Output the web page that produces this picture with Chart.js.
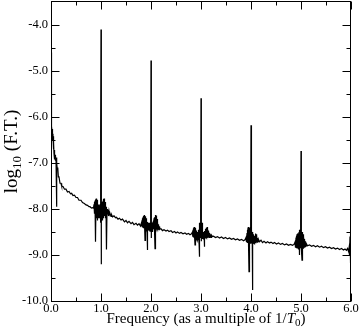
<!DOCTYPE html>
<html>
<head>
<meta charset="utf-8">
<script src="https://cdn.jsdelivr.net/npm/chart.js@4.4.1/dist/chart.umd.min.js"></script>
<style>
  html, body { margin: 0; padding: 0; background: #fff; }
  canvas { display: block; }
</style>
</head>
<body>
<canvas id="c" width="360" height="336"></canvas>
<script>
// ---- data ----
const xTickLabels = [0, 1, 2, 3, 4, 5, 6];
const yTickLabels = [-10, -9, -8, -7, -6, -5, -4];
const xTitleParts = ['Frequency (as a multiple of 1/', 'T', '0', ')'];
const yTitleParts = ['log', '10', ' (F.T.)'];

const freq = [
  // start .. 0.85
  0, 0.005, 0.01, 0.015, 0.02, 0.027, 0.033, 0.04, 0.047, 0.055, 0.06, 0.067, 0.075, 0.08, 0.09, 0.1, 0.108, 0.113, 0.115, 0.118,
  0.125, 0.135, 0.147, 0.16, 0.18, 0.2, 0.213, 0.24, 0.27, 0.3, 0.33, 0.36, 0.39, 0.413, 0.44, 0.47, 0.5, 0.53, 0.56, 0.6,
  0.63, 0.667, 0.7, 0.73, 0.76, 0.78, 0.81, 0.83,
  // cluster around 1
  0.85, 0.86, 0.865, 0.87, 0.875, 0.88, 0.885, 0.89, 0.895, 0.9, 0.905, 0.91, 0.915, 0.92, 0.925, 0.93, 0.935, 0.94, 0.945, 0.95,
  0.955, 0.96, 0.965, 0.97, 0.975, 0.98, 0.985, 0.99, 0.995, 0.997, 0.999, 1.0, 1.001, 1.003, 1.005, 1.01, 1.015, 1.02, 1.025, 1.03,
  1.035, 1.04, 1.045, 1.05, 1.055, 1.06, 1.065, 1.07, 1.075, 1.08, 1.085, 1.09, 1.095, 1.1, 1.105, 1.11, 1.113, 1.12, 1.13, 1.14,
  1.15, 1.16, 1.17, 1.18, 1.2, 1.21,
  // 1.2 .. 1.8
  1.23, 1.26, 1.29, 1.31, 1.34, 1.37, 1.4, 1.43, 1.47, 1.5, 1.53, 1.56, 1.6, 1.63, 1.66, 1.7, 1.73, 1.76, 1.79,
  // cluster around 2
  1.81, 1.815, 1.82, 1.825, 1.83, 1.835, 1.84, 1.845, 1.85, 1.855, 1.86, 1.865, 1.87, 1.875, 1.88, 1.885, 1.89, 1.895, 1.9, 1.905,
  1.91, 1.915, 1.92, 1.925, 1.93, 1.935, 1.94, 1.945, 1.95, 1.955, 1.96, 1.965, 1.97, 1.975, 1.98, 1.985, 1.99, 1.995, 1.997, 1.999,
  2.0, 2.001, 2.003, 2.005, 2.01, 2.015, 2.02, 2.025, 2.03, 2.035, 2.04, 2.045, 2.05, 2.055, 2.06, 2.065, 2.07, 2.075, 2.08, 2.085,
  2.09, 2.095, 2.1, 2.105, 2.11, 2.115, 2.12, 2.125, 2.13, 2.135, 2.14, 2.15, 2.16, 2.17, 2.18,
  // 2.2 .. 2.8
  2.2, 2.23, 2.26, 2.3, 2.33, 2.36, 2.4, 2.43, 2.47, 2.5, 2.53, 2.57, 2.6, 2.64, 2.68, 2.71, 2.75, 2.78, 2.81,
  // cluster around 3
  2.83, 2.835, 2.84, 2.845, 2.85, 2.855, 2.86, 2.865, 2.87, 2.875, 2.88, 2.885, 2.89, 2.895, 2.9, 2.905, 2.91, 2.915, 2.92, 2.925,
  2.93, 2.935, 2.94, 2.945, 2.95, 2.955, 2.96, 2.965, 2.97, 2.975, 2.98, 2.985, 2.99, 2.995, 2.997, 2.999, 3.0, 3.001, 3.003, 3.005,
  3.01, 3.015, 3.02, 3.025, 3.03, 3.035, 3.04, 3.045, 3.05, 3.055, 3.06, 3.065, 3.07, 3.075, 3.08, 3.085, 3.09, 3.095, 3.1, 3.105,
  3.11, 3.115, 3.12, 3.125, 3.13, 3.135, 3.14, 3.15, 3.16, 3.17, 3.18, 3.19, 3.2, 3.21, 3.23,
  // 3.25 .. 3.9
  3.25, 3.29, 3.33, 3.37, 3.41, 3.45, 3.49, 3.53, 3.57, 3.61, 3.65, 3.69, 3.73, 3.77, 3.81, 3.85, 3.88,
  // cluster around 4
  3.9, 3.905, 3.91, 3.915, 3.92, 3.925, 3.93, 3.935, 3.94, 3.945, 3.95, 3.955, 3.96, 3.965, 3.97, 3.975, 3.98, 3.985, 3.99, 3.995,
  3.997, 3.999, 4.0, 4.001, 4.003, 4.005, 4.01, 4.015, 4.02, 4.025, 4.03, 4.035, 4.04, 4.045, 4.05, 4.055, 4.06, 4.065, 4.07, 4.075,
  4.08, 4.085, 4.09, 4.095, 4.1, 4.105, 4.11, 4.115, 4.12, 4.13, 4.14, 4.15,
  // 4.17 .. 4.86
  4.17, 4.2, 4.23, 4.26, 4.3, 4.33, 4.37, 4.4, 4.44, 4.47, 4.51, 4.55, 4.59, 4.63, 4.67, 4.71, 4.75, 4.79, 4.83, 4.86,
  // cluster around 5
  4.88, 4.885, 4.89, 4.895, 4.9, 4.905, 4.91, 4.915, 4.92, 4.925, 4.93, 4.935, 4.94, 4.945, 4.95, 4.955, 4.96, 4.965, 4.97, 4.975,
  4.98, 4.985, 4.99, 4.995, 4.997, 4.999, 5.0, 5.001, 5.003, 5.005, 5.01, 5.015, 5.02, 5.025, 5.03, 5.035, 5.04, 5.045, 5.05, 5.055,
  5.06, 5.07, 5.08, 5.09, 5.1, 5.11,
  // 5.13 .. 6.0
  5.13, 5.17, 5.21, 5.25, 5.29, 5.33, 5.37, 5.41, 5.45, 5.49, 5.53, 5.57, 5.61, 5.65, 5.69, 5.73, 5.77, 5.81, 5.85, 5.88,
  5.91, 5.93, 5.95, 5.96, 5.965, 5.97, 5.975, 5.98, 5.985, 5.99, 5.993, 5.996, 6.0
];

const logFT = [
  // start .. 0.85
  -4.6, -6.0, -6.12, -6.2, -6.3, -6.26, -6.45, -6.42, -6.7, -6.55, -6.8, -6.72, -6.92, -6.82, -6.95, -6.88, -7.0, -6.93, -7.95, -7.0,
  -7.12, -7.1, -7.3, -7.3, -7.44, -7.44, -7.5, -7.51, -7.57, -7.57, -7.63, -7.62, -7.67, -7.66, -7.71, -7.7, -7.75, -7.75, -7.81, -7.81,
  -7.86, -7.88, -7.91, -7.92, -7.95, -7.95, -7.98, -7.97,
  // cluster around 1
  -7.98, -7.9, -8.05, -7.85, -8.1, -7.82, -8.15, -7.8, -8.71, -7.78, -8.2, -7.77, -8.1, -7.8, -8.25, -7.85, -8.05, -7.9, -8.2, -7.95,
  -8.1, -7.92, -8.2, -7.95, -8.1, -7.9, -8.3, -7.85, -6.27, -8.0, -6.3, -4.1, -9.2, -6.35, -8.1, -7.8, -8.2, -7.85, -8.1, -7.9,
  -8.25, -7.82, -8.1, -7.78, -8.2, -7.77, -8.05, -7.8, -8.15, -7.85, -8.1, -7.9, -8.2, -7.95, -8.15, -8.0, -8.88, -8.0, -8.12, -8.02,
  -8.15, -8.05, -8.12, -8.1, -8.16, -8.12,
  // 1.2 .. 1.8
  -8.17, -8.15, -8.19, -8.18, -8.22, -8.2, -8.24, -8.22, -8.28, -8.25, -8.3, -8.27, -8.32, -8.29, -8.34, -8.31, -8.35, -8.32, -8.37,
  // cluster around 2
  -8.3, -8.38, -8.25, -8.4, -8.2, -8.38, -8.18, -8.42, -8.15, -8.35, -8.14, -8.4, -8.13, -8.3, -8.68, -8.2, -8.38, -8.16, -8.4, -8.2,
  -8.45, -8.25, -8.4, -8.28, -8.89, -8.3, -8.45, -8.32, -8.42, -8.3, -8.46, -8.33, -8.44, -8.3, -8.48, -8.25, -8.45, -7.66, -8.4, -7.7,
  -4.77, -8.63, -7.8, -8.4, -8.3, -8.48, -8.32, -8.45, -8.3, -8.5, -8.28, -8.44, -8.25, -8.42, -8.2, -8.4, -8.18, -8.45, -8.86, -8.16,
  -8.4, -8.13, -8.38, -8.14, -8.42, -8.17, -8.4, -8.22, -8.43, -8.28, -8.44, -8.33, -8.45, -8.38, -8.44,
  // 2.2 .. 2.8
  -8.43, -8.47, -8.45, -8.48, -8.46, -8.49, -8.47, -8.51, -8.49, -8.52, -8.5, -8.53, -8.51, -8.54, -8.52, -8.55, -8.53, -8.56, -8.54,
  // cluster around 3
  -8.5, -8.6, -8.45, -8.62, -8.42, -8.6, -8.4, -8.63, -8.39, -8.58, -8.78, -8.41, -8.6, -8.43, -8.62, -8.47, -8.65, -8.5, -8.62, -8.52,
  -8.66, -8.5, -8.64, -8.48, -8.66, -8.45, -8.68, -8.4, -9.04, -8.3, -8.62, -8.1, -8.6, -8.02, -8.5, -8.05, -5.59, -8.7, -8.05, -8.55,
  -8.15, -8.6, -8.3, -8.65, -8.45, -8.62, -8.5, -8.66, -8.52, -8.64, -8.5, -8.68, -8.82, -8.48, -8.63, -8.45, -8.62, -8.43, -8.6, -8.41,
  -8.62, -8.4, -8.6, -8.39, -8.61, -8.42, -8.6, -8.47, -8.62, -8.52, -8.61, -8.55, -8.62, -8.57, -8.6,
  // 3.25 .. 3.9
  -8.59, -8.62, -8.6, -8.63, -8.61, -8.64, -8.62, -8.65, -8.63, -8.66, -8.64, -8.67, -8.65, -8.68, -8.66, -8.69, -8.67,
  // cluster around 4
  -8.62, -8.7, -8.58, -8.72, -8.52, -8.7, -8.45, -8.74, -8.4, -8.72, -8.39, -8.75, -9.36, -8.4, -8.72, -8.4, -8.74, -8.35, -8.7, -8.24,
  -8.6, -8.26, -6.18, -8.75, -8.3, -8.7, -8.4, -8.75, -8.45, -8.72, -9.76, -8.5, -8.73, -8.55, -8.74, -8.6, -8.72, -8.62, -8.74, -8.58,
  -8.72, -8.54, -8.73, -8.53, -8.72, -8.55, -8.73, -8.58, -8.72, -8.63, -8.71, -8.66,
  // 4.17 .. 4.86
  -8.71, -8.68, -8.73, -8.7, -8.74, -8.71, -8.74, -8.72, -8.75, -8.73, -8.76, -8.74, -8.77, -8.75, -8.78, -8.76, -8.79, -8.77, -8.79, -8.77,
  // cluster around 5
  -8.72, -8.82, -8.68, -8.84, -8.62, -8.85, -8.58, -8.84, -8.55, -8.86, -8.54, -8.84, -8.53, -8.86, -8.55, -8.88, -8.5, -8.85, -9.0, -8.45,
  -8.84, -8.4, -8.82, -8.24, -8.7, -8.26, -6.74, -8.85, -8.3, -8.8, -8.45, -8.86, -9.11, -8.5, -8.84, -8.54, -8.85, -8.55, -8.84, -8.58,
  -8.83, -8.65, -8.82, -8.7, -8.8, -8.76,
  // 5.13 .. 6.0
  -8.8, -8.78, -8.81, -8.79, -8.82, -8.8, -8.83, -8.81, -8.84, -8.82, -8.85, -8.83, -8.86, -8.84, -8.87, -8.85, -8.88, -8.86, -8.89, -8.87,
  -8.9, -8.86, -8.92, -8.85, -8.95, -8.8, -9.0, -8.6, -8.98, -8.52, -9.18, -8.55, -8.9
];

// ---- rendering ----
const SERIF = '"Liberation Serif", "Times New Roman", serif';

function drawParts(ctx, parts, cx, by) {
  let w = 0;
  parts.forEach(p => { ctx.font = p.font; p.w = ctx.measureText(p.t).width; w += p.w; });
  let x = cx - w / 2;
  parts.forEach(p => {
    ctx.font = p.font;
    ctx.fillText(p.t, x, by + p.dy);
    x += p.w;
  });
}

const framePlugin = {
  id: 'frame',
  afterDatasetsDraw(chart) {
    const ctx = chart.ctx, a = chart.chartArea;
    const xs = chart.scales.x, ys = chart.scales.y;
    const L = Math.round(a.left) + 0.5, R = Math.round(a.right) - 0.5;
    const T = Math.round(a.top) - 0.5, B = Math.round(a.bottom) + 0.5;
    ctx.save();
    ctx.strokeStyle = '#000';
    ctx.lineWidth = 1;
    ctx.strokeRect(L, T, R - L, B - T);
    ctx.beginPath();
    for (let i = 0; i <= 12; i++) {
      const v = xTickLabels[0] + i * 0.5;
      const px = Math.round(xs.getPixelForValue(v)) + 0.5;
      const len = (i % 2 === 0) ? 8 : 4;
      ctx.moveTo(px, B); ctx.lineTo(px, B - len);
      ctx.moveTo(px, T); ctx.lineTo(px, T + len);
    }
    for (let i = 0; i < 13; i++) {
      const v = yTickLabels[0] + i * 0.5;
      const py = Math.round(ys.getPixelForValue(v)) + 0.5;
      const len = (i % 2 === 0) ? 8 : 4;
      ctx.moveTo(L, py); ctx.lineTo(L + len, py);
      ctx.moveTo(R, py); ctx.lineTo(R - len, py);
    }
    ctx.stroke();
    ctx.restore();
  },
  afterDraw(chart) {
    const ctx = chart.ctx, a = chart.chartArea;
    ctx.save();
    ctx.fillStyle = '#000';
    ctx.textBaseline = 'alphabetic';
    drawParts(ctx, [
      { t: xTitleParts[0], font: `15px ${SERIF}`, dy: 0 },
      { t: xTitleParts[1], font: `italic 15px ${SERIF}`, dy: 0 },
      { t: xTitleParts[2], font: `11px ${SERIF}`, dy: 3 },
      { t: xTitleParts[3], font: `15px ${SERIF}`, dy: 0 }
    ], (a.left + a.right) / 2 + 5, 323);
    ctx.translate(17, (a.top + a.bottom) / 2);
    ctx.rotate(-Math.PI / 2);
    drawParts(ctx, [
      { t: yTitleParts[0], font: `19px ${SERIF}`, dy: 0 },
      { t: yTitleParts[1], font: `13px ${SERIF}`, dy: 4 },
      { t: yTitleParts[2], font: `19px ${SERIF}`, dy: 0 }
    ], 0, 0);
    ctx.restore();
  }
};

new Chart(document.getElementById('c'), {
  type: 'scatter',
  data: {
    datasets: [{
      data: freq.map((f, i) => ({ x: f, y: logFT[i] })),
      showLine: true,
      borderColor: '#000',
      borderWidth: 1.2,
      pointRadius: 0,
      tension: 0
    }]
  },
  options: {
    responsive: false,
    animation: false,
    devicePixelRatio: 1,
    layout: { padding: { left: 0, right: 9, top: 2, bottom: 0 } },
    plugins: { legend: { display: false }, tooltip: { enabled: false } },
    scales: {
      x: {
        type: 'linear', min: 0, max: 6,
        afterBuildTicks: s => { s.ticks = xTickLabels.map(v => ({ value: v })); },
        afterFit: s => { s.height = 35; s.paddingLeft = 0; s.paddingRight = 0; },
        grid: { display: false, drawTicks: false },
        border: { display: false },
        ticks: { color: '#000', padding: 0, maxRotation: 0, autoSkip: false,
                 font: { family: SERIF, size: 12.5 }, callback: v => v.toFixed(1) }
      },
      y: {
        type: 'linear', min: -10, max: -3.5,
        afterBuildTicks: s => { s.ticks = yTickLabels.map(v => ({ value: v })); },
        afterFit: s => { s.width = 51; s.paddingTop = 0; s.paddingBottom = 0; },
        grid: { display: false, drawTicks: false },
        border: { display: false },
        ticks: { color: '#000', padding: 3, autoSkip: false,
                 font: { family: SERIF, size: 12.5 }, callback: v => v.toFixed(1) }
      }
    }
  },
  plugins: [framePlugin]
});
</script>
</body>
</html>
